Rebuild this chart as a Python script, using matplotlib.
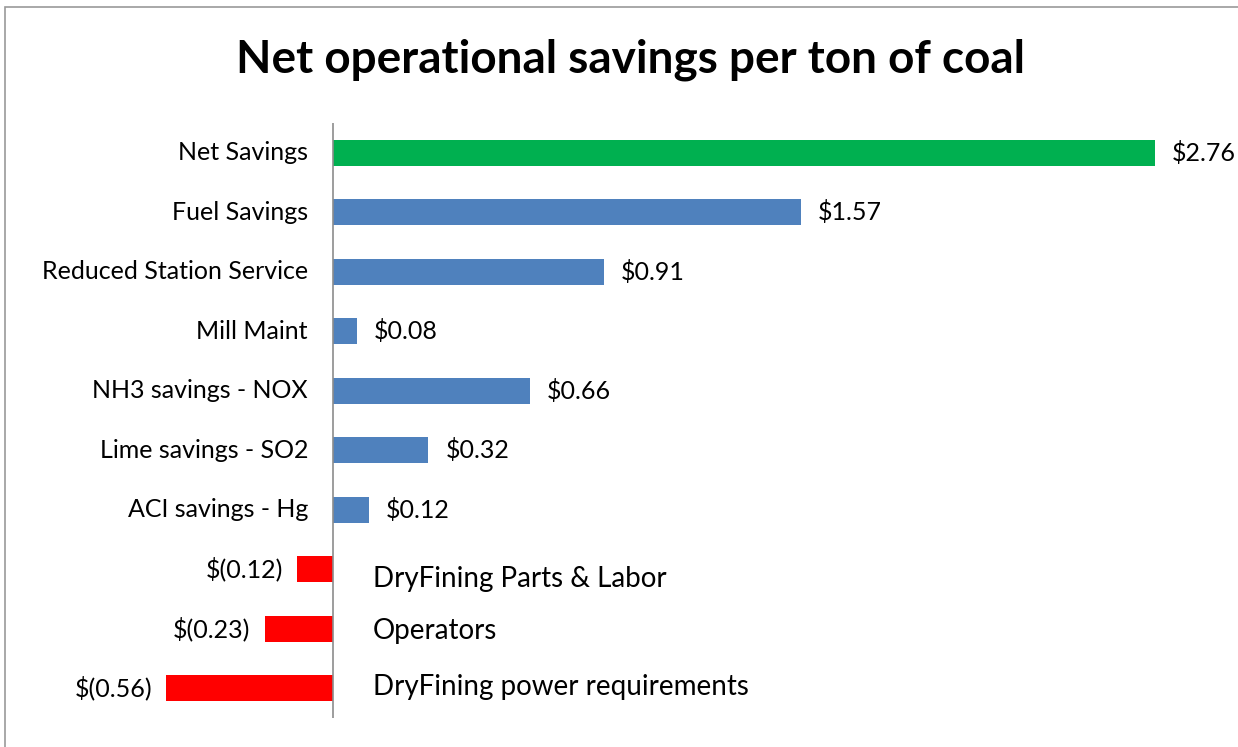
import matplotlib
matplotlib.use("Agg")
import matplotlib.pyplot as plt
from matplotlib.patches import Rectangle

categories = ["Net Savings", "Fuel Savings", "Reduced Station Service", "Mill Maint",
              "NH3 savings - NOX", "Lime savings - SO2", "ACI savings - Hg",
              "DryFining Parts & Labor", "Operators", "DryFining power requirements"]
values = [2.76, 1.57, 0.91, 0.08, 0.66, 0.32, 0.12, -0.12, -0.23, -0.56]
colors = ["#00B050"] + ["#4F81BD"] * 6 + ["#FF0000"] * 3
title = "Net operational savings per ton of coal"

FONT = "Lato"
W, H = 1238, 747
fig = plt.figure(figsize=(W / 100, H / 100), dpi=100)

# axes placed in pixel coordinates
ax_left, ax_right = 160, 1160
ax_top, ax_bottom = 123, 718
ax = fig.add_axes([ax_left / W, 1 - ax_bottom / H, (ax_right - ax_left) / W, (ax_bottom - ax_top) / H])
ppu = (1155 - 333) / 2.76
ax.set_xlim(-(333 - ax_left) / ppu, (ax_right - 333) / ppu)
n = len(categories)
ax.set_ylim(n - 0.5, -0.5)

ypos = list(range(n))
ax.barh(ypos, values, height=0.44, color=colors, zorder=2)
ax.axvline(0, color="#8c8c8c", lw=1.2, zorder=3)
for s in ax.spines.values():
    s.set_visible(False)
ax.set_xticks([])
ax.set_yticks([])
ax.patch.set_alpha(0)

fs = 18
neg_dy = [-10, -2, 1]  # pixel nudges for right-side labels of negative bars
k = 0
for y, (cat, v) in enumerate(zip(categories, values)):
    if v >= 0:
        ax.annotate(cat, (0, y), xytext=(-25, 0), textcoords="offset pixels",
                    ha="right", va="center", fontsize=fs, family=FONT)
        ax.annotate(f"${v:.2f}", (v, y), xytext=(17, 0), textcoords="offset pixels",
                    ha="left", va="center", fontsize=fs, family=FONT)
    else:
        ax.annotate(cat, (0, y), xytext=(40, neg_dy[k]), textcoords="offset pixels",
                    ha="left", va="center", fontsize=20, family=FONT)
        ax.annotate(f"$({abs(v):.2f})", (v, y), xytext=(-14, 0), textcoords="offset pixels",
                    ha="right", va="center", fontsize=fs, family=FONT)
        k += 1

fig.text(630 / W, 1 - 60 / H, title, ha="center", va="center", fontsize=33,
         fontweight="bold", family=FONT)

fig.patches.append(Rectangle((5 / W, -0.1), 1.2, 1 - 7 / H + 0.1, transform=fig.transFigure,
                             fill=False, edgecolor="#9a9a9a", lw=1.2))

fig.savefig("out.png", dpi=100)
